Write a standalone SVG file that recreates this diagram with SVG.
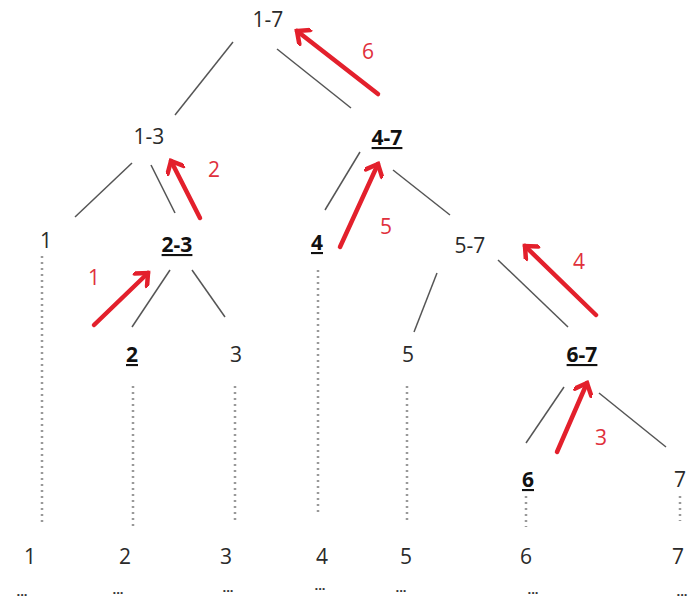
<svg xmlns="http://www.w3.org/2000/svg" width="688" height="603" viewBox="0 0 688 603">
<style>
.t{font-family:"Open Sans","Liberation Sans",sans-serif;font-size:21px;fill:#2a2a2a;text-anchor:middle}
.b{font-weight:bold;fill:#111;text-decoration:underline}
.r{font-family:"Open Sans","Liberation Sans",sans-serif;font-size:21px;fill:#e0303c;text-anchor:middle}
.d{font-family:"Open Sans","Liberation Sans",sans-serif;font-size:13px;font-weight:bold;fill:#333;text-anchor:middle}
.e{stroke:#555;stroke-width:1.5;fill:none}
.dot{stroke:#999;stroke-width:2.5;stroke-dasharray:2 4;fill:none}
.a{stroke:#e3202c;stroke-width:4.5;fill:none;stroke-linecap:round}
</style>
<defs>
<marker id="h" viewBox="0 0 20 20" refX="16" refY="10" markerWidth="20" markerHeight="20" markerUnits="userSpaceOnUse" orient="auto">
<path d="M6,1 L16,10 L6,19" fill="none" stroke="#e3202c" stroke-width="4.5" stroke-linecap="round"/>
</marker>
</defs>
<rect width="688" height="603" fill="#fff"/>
<g id="connectors">
<line class="e" x1="233" y1="42" x2="175" y2="115"/>
<line class="e" x1="277" y1="49" x2="351" y2="108"/>
<line class="e" x1="132" y1="163" x2="75" y2="217"/>
<line class="e" x1="151" y1="165" x2="175" y2="213"/>
<line class="e" x1="360" y1="152" x2="325" y2="210"/>
<line class="e" x1="393" y1="170" x2="450" y2="215"/>
<line class="e" x1="170" y1="270" x2="132" y2="327"/>
<line class="e" x1="192" y1="270" x2="225" y2="317"/>
<line class="e" x1="437" y1="273" x2="414" y2="332"/>
<line class="e" x1="498" y1="260" x2="568" y2="327"/>
<line class="e" x1="564" y1="387" x2="526" y2="443"/>
<line class="e" x1="599" y1="393" x2="666" y2="447"/>
<line class="dot" x1="42" y1="256" x2="42" y2="526"/>
<line class="dot" x1="133" y1="386" x2="133" y2="526"/>
<line class="dot" x1="235" y1="386" x2="235" y2="521"/>
<line class="dot" x1="318" y1="270" x2="318" y2="516"/>
<line class="dot" x1="407" y1="386" x2="407" y2="523"/>
<line class="dot" x1="526" y1="496" x2="526" y2="527"/>
<line class="dot" x1="680" y1="496" x2="680" y2="521"/>
<line class="a" x1="94" y1="325" x2="148" y2="273" marker-end="url(#h)"/>
<line class="a" x1="200" y1="218" x2="171" y2="161" marker-end="url(#h)"/>
<line class="a" x1="557" y1="452" x2="587" y2="383" marker-end="url(#h)"/>
<line class="a" x1="596" y1="315" x2="525" y2="246" marker-end="url(#h)"/>
<line class="a" x1="340" y1="247" x2="378" y2="164" marker-end="url(#h)"/>
<line class="a" x1="378" y1="94" x2="297" y2="31" marker-end="url(#h)"/>
</g>
<g id="n17"><text class="t" x="268" y="27">1-7</text></g>
<g id="n13"><text class="t" x="149" y="144">1-3</text></g>
<g id="n47"><text class="t b" x="387" y="145">4-7</text></g>
<g id="n1"><text class="t" x="46" y="248">1</text></g>
<g id="n23"><text class="t b" x="177" y="252">2-3</text></g>
<g id="n4"><text class="t b" x="317" y="250">4</text></g>
<g id="n57"><text class="t" x="470" y="253">5-7</text></g>
<g id="n2"><text class="t b" x="132" y="362">2</text></g>
<g id="n3"><text class="t" x="236" y="362">3</text></g>
<g id="n5"><text class="t" x="408" y="362">5</text></g>
<g id="n67"><text class="t b" x="582" y="362">6-7</text></g>
<g id="n6"><text class="t b" x="528" y="487">6</text></g>
<g id="n7"><text class="t" x="680" y="487">7</text></g>
<g id="labels">
<text class="r" x="368" y="59">6</text>
<text class="r" x="214" y="177">2</text>
<text class="r" x="386" y="234">5</text>
<text class="r" x="94" y="285">1</text>
<text class="r" x="579" y="269">4</text>
<text class="r" x="601" y="445">3</text>
</g>
<g id="bottom">
<text class="t" x="30" y="564">1</text>
<text class="t" x="125" y="564">2</text>
<text class="t" x="226" y="564">3</text>
<text class="t" x="322" y="564">4</text>
<text class="t" x="406" y="564">5</text>
<text class="t" x="526" y="564">6</text>
<text class="t" x="678" y="564">7</text>
<text class="d" x="22" y="596">...</text>
<text class="d" x="118" y="594">...</text>
<text class="d" x="228" y="592">...</text>
<text class="d" x="320" y="590">...</text>
<text class="d" x="401" y="592">...</text>
<text class="d" x="533" y="594">...</text>
<text class="d" x="682" y="596">...</text>
</g>
</svg>
